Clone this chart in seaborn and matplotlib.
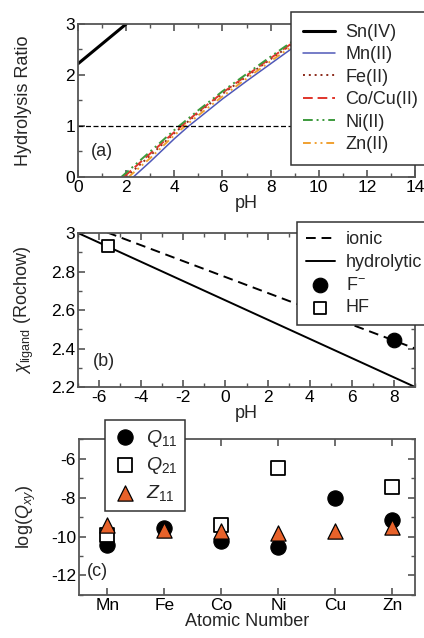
import numpy as np
import pandas as pd
import matplotlib
matplotlib.use("Agg")
import matplotlib.pyplot as plt
import seaborn as sns
from matplotlib.ticker import MultipleLocator, FormatStrFormatter

# ---- data ----
# (a) hydrolysis ratio vs pH
sn_ph = [0.0, 2.0]
sn_h = [2.22, 3.0]
mn_ph = [2.3, 3.0, 4.0, 4.6, 5.0, 6.0, 7.0, 8.0, 9.0, 10.0]
mn_h = [0.0, 0.3, 0.75, 1.0, 1.15, 1.53, 1.88, 2.22, 2.56, 2.88]
fe_ph = [2.0, 3.0, 4.0, 4.35, 5.0, 6.0, 7.0, 8.0, 9.0, 10.0]
fe_h = [0.0, 0.42, 0.86, 1.0, 1.26, 1.63, 1.97, 2.31, 2.64, 2.95]
cocu_ph = [1.9, 3.0, 4.0, 4.3, 5.0, 6.0, 7.0, 8.0, 9.0, 10.0]
cocu_h = [0.0, 0.46, 0.88, 1.0, 1.28, 1.65, 1.99, 2.33, 2.66, 2.97]
ni_ph = [1.8, 3.0, 4.0, 4.2, 5.0, 6.0, 7.0, 8.0, 9.0, 10.0]
ni_h = [0.0, 0.5, 0.92, 1.0, 1.31, 1.68, 2.02, 2.36, 2.69, 3.0]
zn_ph = [2.1, 3.0, 4.0, 4.45, 5.0, 6.0, 7.0, 8.0, 9.0, 10.0]
zn_h = [0.0, 0.37, 0.82, 1.0, 1.21, 1.58, 1.93, 2.27, 2.60, 2.92]

# (b) ligand electronegativity vs pH
ionic_ph = [-7.0, 9.0]
ionic_chi = [3.06, 2.40]
hydro_ph = [-7.0, 9.0]
hydro_chi = [3.0, 2.2]
f_ph, f_chi = [8.0], [2.445]
hf_ph, hf_chi = [-5.6], [2.935]

# (c) log Q per metal
elements = ["Mn", "Fe", "Co", "Ni", "Cu", "Zn"]
q11 = [-10.45, -9.55, -10.25, -10.52, -8.02, -9.15]
q21 = [-9.9, np.nan, -9.42, -6.5, np.nan, -7.48]
z11 = [-9.42, -9.68, -9.72, -9.82, -9.72, -9.5]

sns.set_style("ticks")
plt.rcParams["font.family"] = ["Liberation Sans", "DejaVu Sans"]
plt.rcParams["mathtext.fontset"] = "custom"
plt.rcParams["mathtext.it"] = "Liberation Sans:italic"
plt.rcParams["mathtext.rm"] = "Liberation Sans"
plt.rcParams["axes.unicode_minus"] = False
plt.rcParams["axes.edgecolor"] = "#555555"
plt.rcParams["axes.linewidth"] = 1.3
plt.rcParams["xtick.color"] = "#555555"
plt.rcParams["ytick.color"] = "#555555"
plt.rcParams["xtick.labelcolor"] = "black"
plt.rcParams["ytick.labelcolor"] = "black"

fig = plt.figure(figsize=(4.24, 6.38), dpi=100)
ax_a = fig.add_axes([0.184, 0.7226, 0.795, 0.2398])
ax_b = fig.add_axes([0.184, 0.3934, 0.795, 0.2414])
ax_c = fig.add_axes([0.186, 0.0674, 0.793, 0.2445])

FS = 13
TS = 12.5


def style_ticks(ax):
    ax.tick_params(which="both", direction="in", top=True, right=True, labelsize=TS)
    ax.tick_params(which="major", length=5, width=1.2, pad=2)
    ax.tick_params(which="minor", length=3, width=1.0)


def style_legend(leg):
    leg.get_frame().set_linewidth(1.1)
    leg.get_frame().set_edgecolor("#333333")
    leg.set_zorder(10)


# ---- panel (a) ----
curves = [
    ("Sn(IV)", sn_ph, sn_h, "black", "-", 2.2),
    ("Mn(II)", mn_ph, mn_h, "#4f58b8", "-", 1.1),
    ("Fe(II)", fe_ph, fe_h, "#8b2a1a", (0, (1, 2)), 1.4),
    ("Co/Cu(II)", cocu_ph, cocu_h, "#e0352b", (0, (5, 2.5)), 1.4),
    ("Ni(II)", ni_ph, ni_h, "#3c9a3c", (0, (5, 2, 1, 2, 1, 2)), 1.4),
    ("Zn(II)", zn_ph, zn_h, "#f0a030", (0, (4, 2, 1, 2, 1, 2)), 1.4),
]
for label, x, y, c, ls, lw in curves:
    sns.lineplot(x=x, y=y, ax=ax_a, color=c, linestyle=ls, linewidth=lw, label=label)
ax_a.axhline(1, color="black", linestyle=(0, (4, 2)), linewidth=0.9)
ax_a.set_xlim(0, 14)
ax_a.set_ylim(0, 3)
ax_a.xaxis.set_major_locator(MultipleLocator(2))
ax_a.xaxis.set_minor_locator(MultipleLocator(1))
ax_a.yaxis.set_major_locator(MultipleLocator(1))
ax_a.yaxis.set_minor_locator(MultipleLocator(0.5))
ax_a.set_xlabel("pH", fontsize=FS, labelpad=0)
ax_a.set_ylabel("Hydrolysis Ratio", fontsize=FS)
ax_a.yaxis.set_label_coords(-0.137, 0.5)
ax_a.text(0.55, 0.5, "(a)", fontsize=FS, va="center")
style_ticks(ax_a)
leg_a = ax_a.legend(loc="upper left", bbox_to_anchor=(0.686, 0.981),
                    bbox_transform=fig.transFigure, fontsize=FS, borderaxespad=0,
                    frameon=True, fancybox=False, framealpha=1,
                    handlelength=1.8, labelspacing=0.3, borderpad=0.65, handletextpad=0.55)
style_legend(leg_a)

# ---- panel (b) ----
sns.lineplot(x=ionic_ph, y=ionic_chi, ax=ax_b, color="black", linestyle=(0, (5, 3)),
             linewidth=1.4, label="ionic")
sns.lineplot(x=hydro_ph, y=hydro_chi, ax=ax_b, color="black", linewidth=1.4,
             label="hydrolytic")
sns.scatterplot(x=f_ph, y=f_chi, ax=ax_b, color="black", marker="o", s=110,
                edgecolor="black", label="F$^{-}$", zorder=5)
sns.scatterplot(x=hf_ph, y=hf_chi, ax=ax_b, color="white", marker="s", s=85,
                edgecolor="black", linewidth=1.3, label="HF", zorder=5)
ax_b.set_xlim(-7, 9)
ax_b.set_ylim(2.2, 3.0)
ax_b.xaxis.set_major_locator(MultipleLocator(2))
ax_b.xaxis.set_minor_locator(MultipleLocator(1))
ax_b.yaxis.set_major_locator(MultipleLocator(0.2))
ax_b.yaxis.set_minor_locator(MultipleLocator(0.1))
ax_b.yaxis.set_major_formatter(FormatStrFormatter("%g"))
ax_b.set_xlabel("pH", fontsize=FS, labelpad=0)
ax_b.set_ylabel(r"$\chi_{\mathrm{ligand}}$ (Rochow)", fontsize=FS)
ax_b.yaxis.set_label_coords(-0.125, 0.5)
ax_b.text(-6.3, 2.33, "(b)", fontsize=FS, va="center")
style_ticks(ax_b)
leg_b = ax_b.legend(loc="upper left", bbox_to_anchor=(0.700, 0.652),
                    bbox_transform=fig.transFigure, fontsize=FS, borderaxespad=0,
                    frameon=True, fancybox=False, framealpha=1,
                    handlelength=1.6, labelspacing=0.32, borderpad=0.5, handletextpad=0.6)
style_legend(leg_b)

# ---- panel (c) ----
df_c = pd.DataFrame({"element": elements, "Q11": q11, "Q21": q21, "Z11": z11})
sns.scatterplot(data=df_c, x="element", y="Q11", ax=ax_c, color="black", marker="o",
                s=120, edgecolor="black", label="$Q_{11}$", zorder=3)
sns.scatterplot(data=df_c, x="element", y="Q21", ax=ax_c, color="white", marker="s",
                s=90, edgecolor="black", linewidth=1.3, label="$Q_{21}$", zorder=4)
sns.scatterplot(data=df_c, x="element", y="Z11", ax=ax_c, color="#e8622a", marker="^",
                s=120, edgecolor="black", linewidth=0.9, label="$Z_{11}$", zorder=5)
ax_c.set_xlim(-0.5, 5.4)
ax_c.set_ylim(-13, -5)
ax_c.yaxis.set_major_locator(MultipleLocator(2))
ax_c.yaxis.set_minor_locator(MultipleLocator(1))
ax_c.set_xlabel("Atomic Number", fontsize=FS, labelpad=0)
ax_c.set_ylabel("log($Q_{xy}$)", fontsize=FS)
ax_c.yaxis.set_label_coords(-0.122, 0.5)
ax_c.text(-0.36, -11.8, "(c)", fontsize=FS, va="center")
style_ticks(ax_c)
leg_c = ax_c.legend(loc="upper left", bbox_to_anchor=(0.248, 0.342),
                    bbox_transform=fig.transFigure, fontsize=FS + 1, borderaxespad=0,
                    frameon=True, fancybox=False, framealpha=1,
                    handlelength=1.2, labelspacing=0.35, borderpad=0.4, handletextpad=0.5)
style_legend(leg_c)

fig.savefig("out.png", dpi=100)
